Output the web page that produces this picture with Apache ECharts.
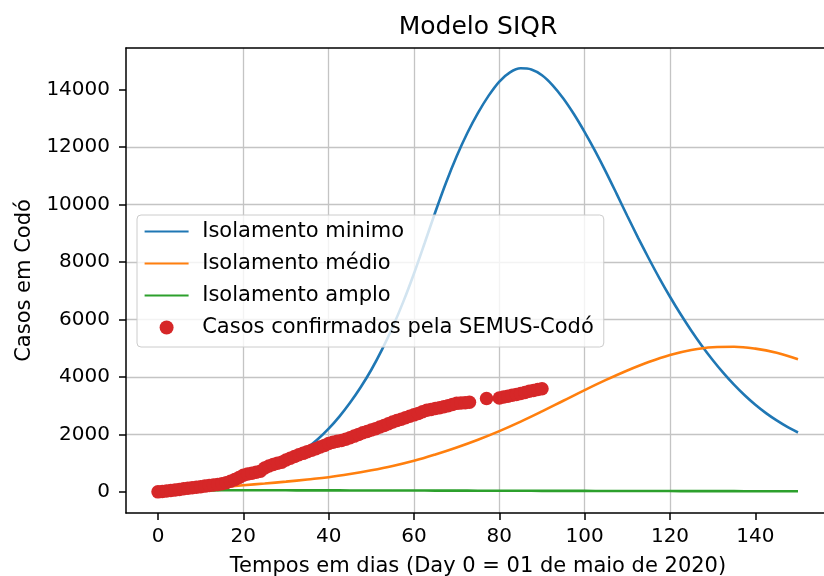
<!DOCTYPE html>
<html>
<head>
<meta charset="utf-8">
<script src="https://cdn.jsdelivr.net/npm/echarts@6/dist/echarts.min.js"></script>
<style>
  html, body { margin: 0; padding: 0; background: #ffffff; overflow: hidden; }
  #chart { width: 824px; height: 576px; }
</style>
</head>
<body>
<div id="chart"></div>
<script>
// ---- data ----
const minimoDays = [0,2.5,5,7.5,10,12.5,15,17.5,20,22.5,25,27.5,30,32.5,35,37.5,40,42.5,45,47.5,50,52.5,55,57.5,60,62.5,65,67.5,70,72.5,75,77.5,80,82.5,85,87.5,90,92.5,95,97.5,100,102.5,105,107.5,110,112.5,115,117.5,120,122.5,125,127.5,130,132.5,135,137.5,140,142.5,145,147.5,150];
const isolamentoMinimo = [85,105,130,160,200,250,305,380,465,570,700,860,1040,1260,1530,1840,2200,2620,3100,3640,4250,4950,5740,6620,7600,8660,9740,10760,11680,12490,13190,13790,14280,14600,14740,14700,14500,14150,13690,13140,12520,11850,11130,10370,9600,8850,8130,7440,6790,6180,5610,5080,4590,4140,3730,3360,3030,2740,2485,2260,2065];

const modelDays = [0,5,10,15,20,25,30,35,40,45,50,55,60,65,70,75,80,85,90,95,100,105,110,115,120,125,130,135,140,145,150];
const isolamentoMedio = [40,80,120,170,230,290,355,430,510,620,750,900,1080,1300,1545,1815,2115,2445,2800,3170,3540,3895,4225,4520,4765,4940,5035,5050,4985,4840,4615];
const isolamentoAmplo = [40,48,52,54,55,55,54,53,52,50,49,47,46,44,42,41,39,38,36,35,33,32,30,29,28,26,25,24,23,22,21];

const casosDias = [0,1,2,3,4,5,6,7,8,9,10,11,12,13,14,15,16,17,18,19,20,21,22,23,24,25,26,27,28,29,30,31,32,33,34,35,36,37,38,39,40,41,42,43,44,45,46,47,48,49,50,51,52,53,54,55,56,57,58,59,60,61,62,63,64,65,66,67,68,69,70,71,72,73,77,80,81,82,83,84,85,86,87,88,89,90];
const casosConfirmados = [0,15,30,45,65,85,105,125,145,160,180,200,220,240,260,285,320,370,430,500,580,620,650,680,720,830,900,950,1000,1030,1110,1170,1230,1290,1340,1400,1450,1500,1560,1610,1680,1730,1760,1790,1830,1880,1940,2000,2060,2100,2150,2200,2260,2310,2370,2430,2480,2530,2580,2630,2680,2730,2790,2840,2870,2900,2930,2960,3000,3040,3080,3090,3100,3120,3250,3270,3300,3330,3360,3390,3420,3460,3500,3530,3560,3590];

const xTicks = [0,20,40,60,80,100,120,140];
const yTicks = [0,2000,4000,6000,8000,10000,12000,14000];

const seriesNames = ['Isolamento minimo','Isolamento médio','Isolamento amplo','Casos confirmados pela SEMUS-Codó'];
const colors = ['#1f77b4','#ff7f0e','#2ca02c','#d62728'];

// ---- chart ----
const pair = (xs, ys) => xs.map((x, i) => [x, ys[i]]);
const FONT = 'DejaVu Sans';
const X_MIN = -7.5, X_MAX = 157.5, Y_MIN = -735.6, Y_MAX = 15447;

const chart = echarts.init(document.getElementById('chart'), null, {renderer: 'canvas'});

const spine = { show: true, onZero: false, lineStyle: { color: '#000', width: 1.5 } };
const tickStyle = { show: true, inside: false, length: 7, lineStyle: { color: '#000', width: 1.5 } };
const gridLine = { show: true, showMinLine: false, showMaxLine: false, lineStyle: { color: '#c4c4c4', width: 1.3 } };

const option = {
  animation: false,
  backgroundColor: '#ffffff',
  title: {
    text: 'Modelo SIQR',
    left: 473,
    top: 10,
    textAlign: 'center',
    textStyle: { fontFamily: FONT, fontSize: 25, fontWeight: 'normal', color: '#000' }
  },
  grid: {
    left: 126, top: 48, width: 704, height: 465,
    outerBoundsMode: 'none',
    containLabel: false,
    show: false
  },
  xAxis: [
    {
      type: 'value', min: X_MIN, max: X_MAX, position: 'bottom',
      name: 'Tempos em dias (Day 0 = 01 de maio de 2020)',
      nameLocation: 'middle',
      nameGap: 43,
      nameTextStyle: { fontFamily: FONT, fontSize: 21, color: '#000' },
      axisLine: spine,
      axisTick: Object.assign({}, tickStyle, { customValues: xTicks }),
      splitLine: gridLine,
      axisLabel: { customValues: xTicks, margin: 14, fontFamily: FONT, fontSize: 20, color: '#000',
        formatter: v => String(v) }
    },
    {
      type: 'value', min: X_MIN, max: X_MAX, position: 'top',
      axisLine: spine,
      axisTick: { show: false }, axisLabel: { show: false }, splitLine: { show: false }
    }
  ],
  yAxis: {
    type: 'value', min: Y_MIN, max: Y_MAX, position: 'left',
    name: 'Casos em Codó',
    nameLocation: 'middle',
    nameGap: 85,
    nameTextStyle: { fontFamily: FONT, fontSize: 21, color: '#000' },
    axisLine: spine,
    axisTick: Object.assign({}, tickStyle, { customValues: yTicks }),
    splitLine: gridLine,
    axisLabel: { customValues: yTicks, margin: 16, fontFamily: FONT, fontSize: 20, color: '#000',
      formatter: v => String(v) }
  },
  legend: {
    orient: 'vertical',
    left: 137, top: 215,
    padding: [6, 10, 9, 6.6],
    itemGap: 11,
    itemWidth: 44,
    itemHeight: 14,
    backgroundColor: 'rgba(255,255,255,0.8)',
    borderColor: '#cccccc',
    borderWidth: 1,
    borderRadius: 4,
    data: [
      { name: seriesNames[0], itemStyle: { opacity: 0 } },
      { name: seriesNames[1], itemStyle: { opacity: 0 } },
      { name: seriesNames[2], itemStyle: { opacity: 0 } },
      { name: seriesNames[3] }
    ],
    textStyle: { fontFamily: FONT, fontSize: 21, color: '#000', padding: [0, 0, 0, 8.6] }
  },
  series: [
    { name: seriesNames[0], type: 'line', data: pair(minimoDays, isolamentoMinimo), smooth: 0.3, symbol: 'none', showSymbol: false,
      lineStyle: { color: colors[0], width: 2.6 }, itemStyle: { color: colors[0] }, z: 2 },
    { name: seriesNames[1], type: 'line', data: pair(modelDays, isolamentoMedio), smooth: 0.4, symbol: 'none', showSymbol: false,
      lineStyle: { color: colors[1], width: 2.6 }, itemStyle: { color: colors[1] }, z: 3 },
    { name: seriesNames[2], type: 'line', data: pair(modelDays, isolamentoAmplo), smooth: 0.4, symbol: 'none', showSymbol: false,
      lineStyle: { color: colors[2], width: 2.6 }, itemStyle: { color: colors[2] }, z: 4 },
    { name: seriesNames[3], type: 'scatter', data: pair(casosDias, casosConfirmados), symbol: 'circle', symbolSize: 13.5,
      itemStyle: { color: colors[3], opacity: 1 }, z: 5 }
  ]
};

chart.setOption(option);
</script>
</body>
</html>
